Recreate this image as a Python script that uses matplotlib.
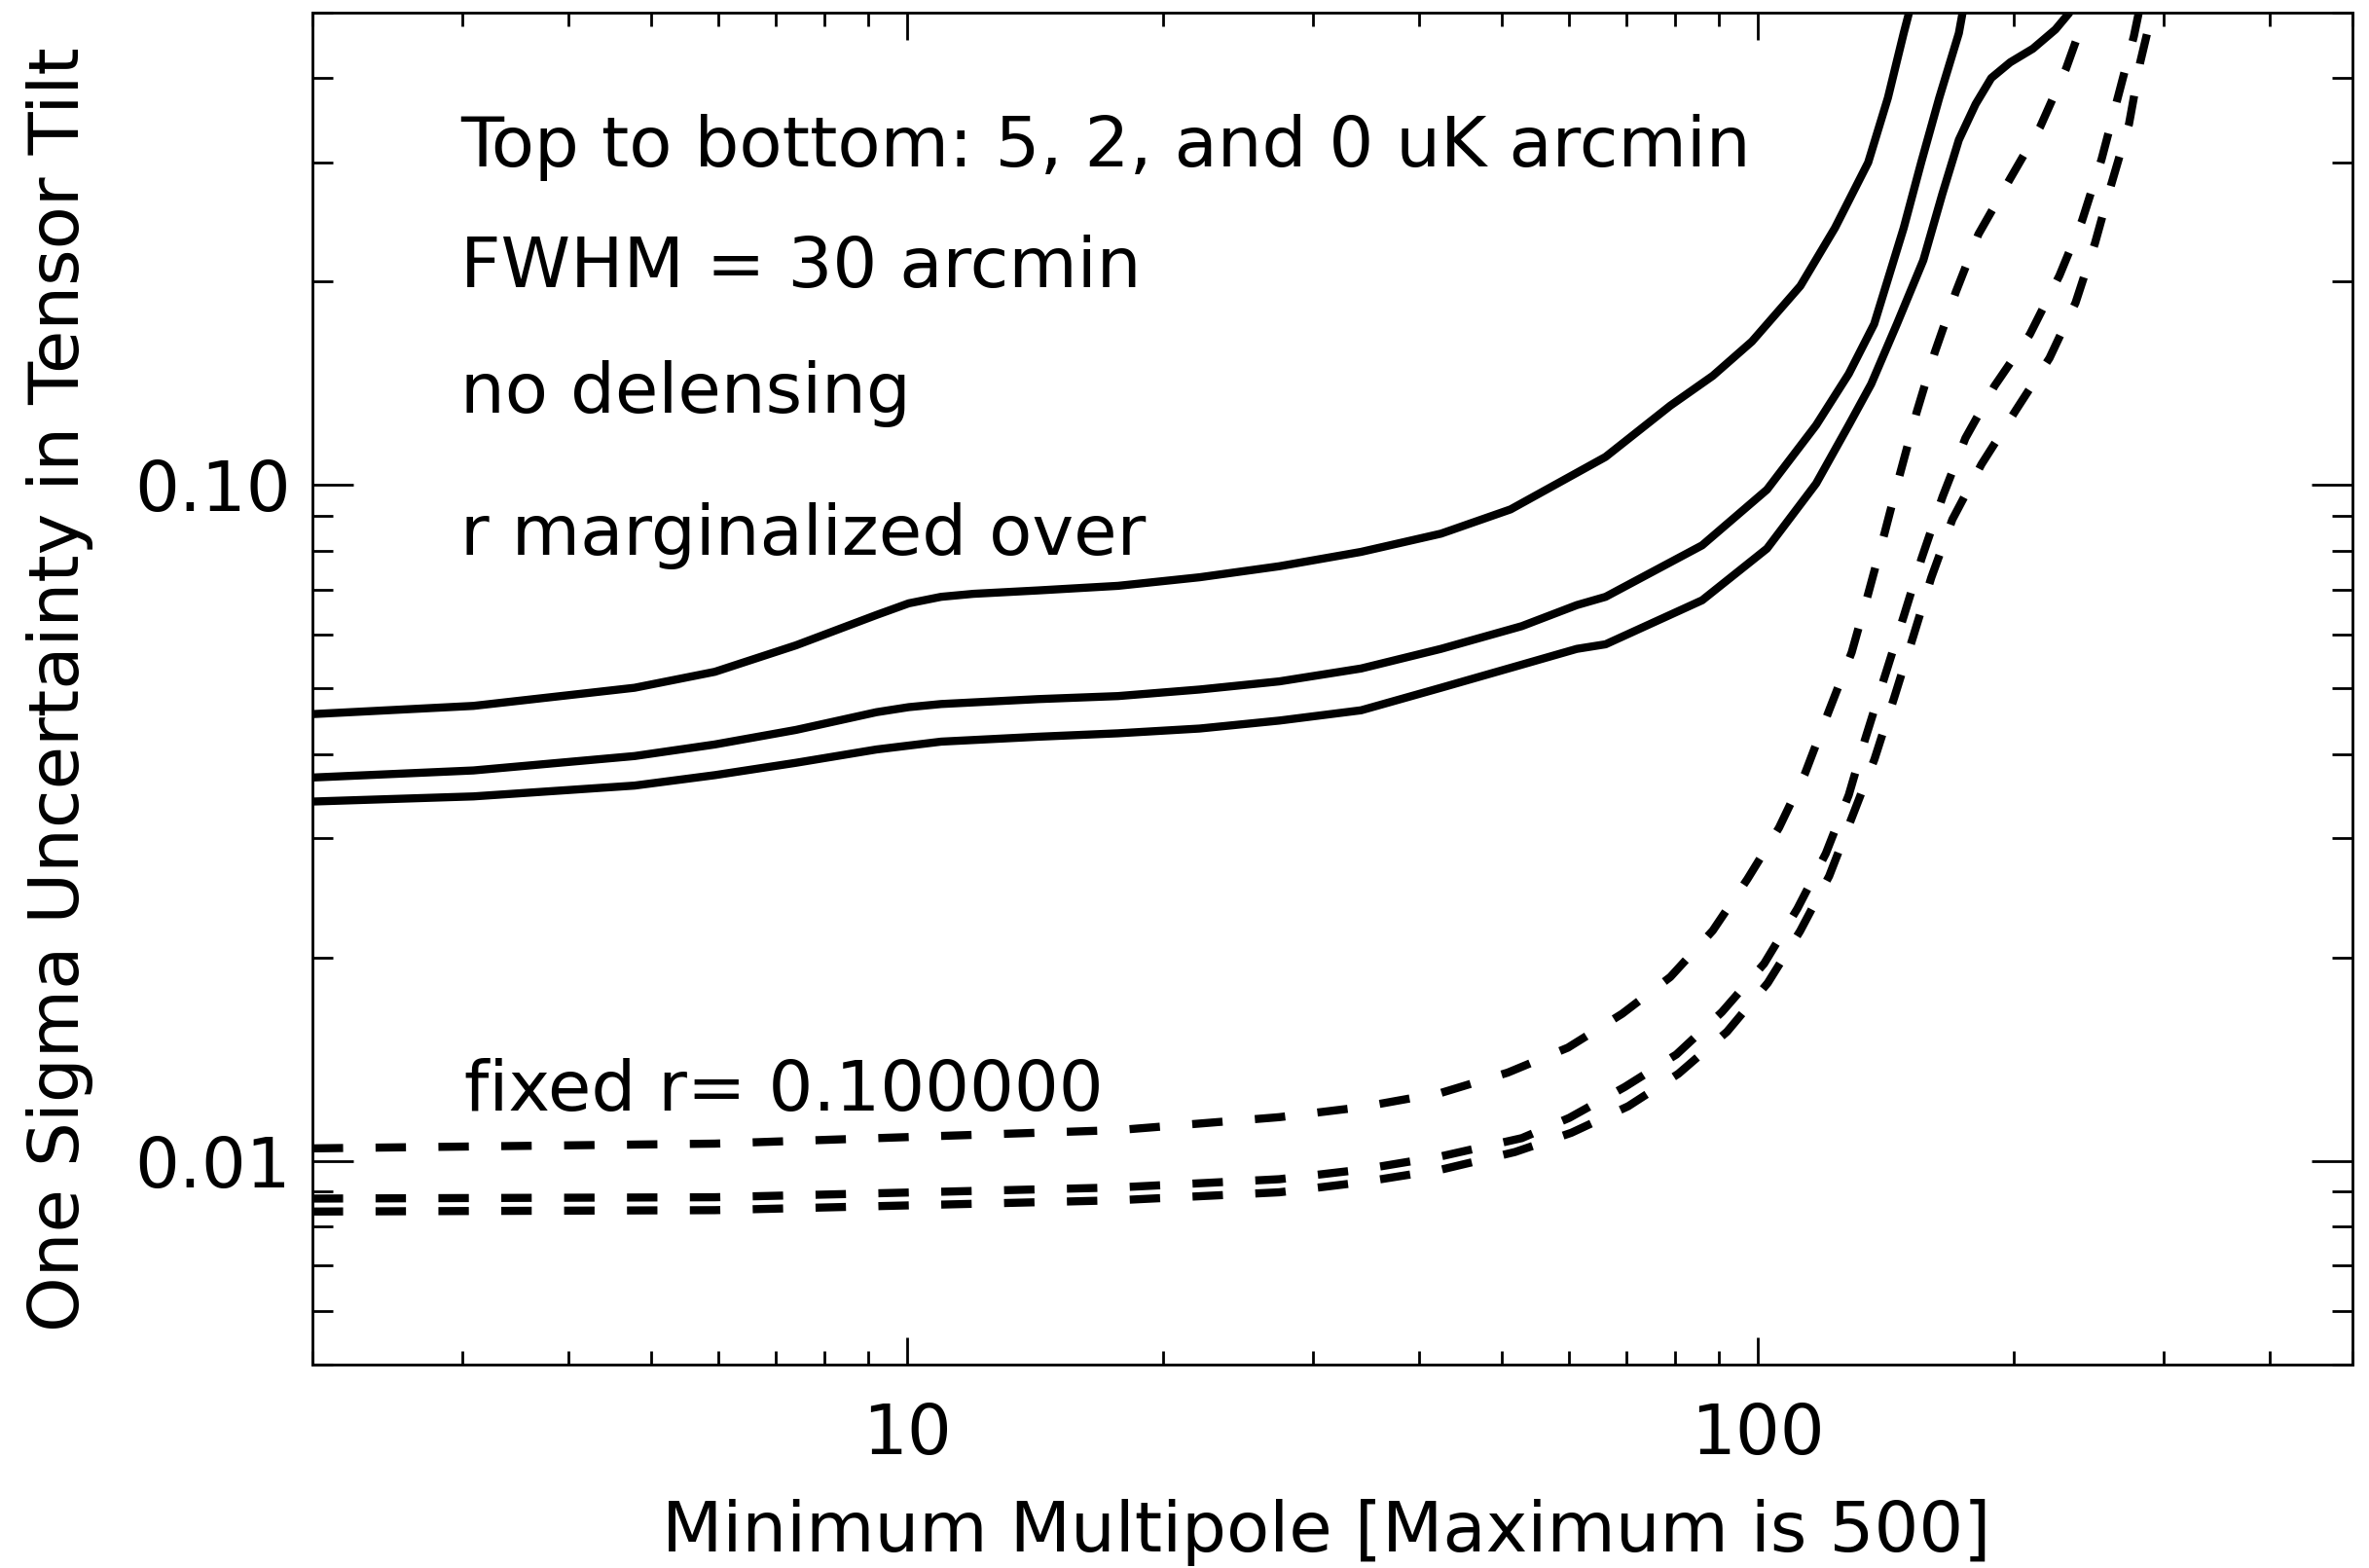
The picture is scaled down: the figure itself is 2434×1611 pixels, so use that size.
import numpy as np
import matplotlib
matplotlib.use("Agg")
from matplotlib import pyplot as plt
from matplotlib.ticker import FixedLocator, LogLocator, NullFormatter

# r marginalized over, noise 5 / 2 / 0 uK arcmin
l_5 = [2.0, 3.09, 4.78, 5.94, 7.40, 9.20, 10.04, 10.96, 11.96, 14.24, 17.69, 22.06, 27.38, 34.16,
       42.41, 51.2, 66.2, 78.9, 88.5, 98.4, 112.2, 123.2, 134.8, 142.2, 148.4, 153.0]
sig_5 = [0.0458, 0.0471, 0.0501, 0.0529, 0.0579, 0.0642, 0.0668, 0.0683, 0.0690, 0.0698, 0.0709, 0.0730,
         0.0758, 0.0796, 0.0847, 0.0920, 0.110, 0.131, 0.145, 0.163, 0.197, 0.240, 0.300, 0.374, 0.466, 0.54]

l_2 = [2.0, 3.09, 4.78, 5.94, 7.40, 9.20, 10.04, 10.96, 14.24, 17.69, 22.06, 27.38, 34.16, 42.41,
       52.77, 61.26, 66.22, 86.0, 102.5, 117.1, 127.9, 137.0, 148.4, 155.6, 163.4, 172.3, 176.0]
sig_2 = [0.0369, 0.0378, 0.0397, 0.0413, 0.0434, 0.0461, 0.0469, 0.0474, 0.0482, 0.0487, 0.0498, 0.0512,
         0.0535, 0.0572, 0.0618, 0.0664, 0.0683, 0.0814, 0.0984, 0.1226, 0.146, 0.173, 0.240, 0.300,
         0.374, 0.466, 0.54]

l_0 = [2.0, 3.09, 4.78, 5.94, 7.40, 9.20, 10.96, 14.24, 17.69, 22.06, 27.38, 34.16, 42.41, 52.77,
       61.26, 66.22, 86.0, 102.5, 117.1, 127.9, 135.9, 145.7, 156.5, 164.7, 172.3, 180.3, 188.1,
       198.0, 210.5, 223.8, 232.2, 238.0]
sig_0 = [0.0340, 0.0346, 0.0359, 0.0372, 0.0388, 0.0406, 0.0417, 0.0424, 0.0429, 0.0436, 0.0448, 0.0464,
         0.0501, 0.0542, 0.0572, 0.0581, 0.0675, 0.0805, 0.1005, 0.1226, 0.141, 0.173, 0.215, 0.269,
         0.324, 0.366, 0.400, 0.422, 0.442, 0.472, 0.499, 0.54]

# fixed r = 0.1, same three noise levels
lf_5 = [2.0, 5.94, 11.42, 17.69, 27.38, 34.16, 42.41, 50.8, 59.8, 69.26, 78.9, 88.5, 97.2, 105.9,
        113.6, 121.2, 128.9, 134.8, 141.0, 146.9, 153.7, 161.4, 170.9, 181.7, 198.0, 214.8, 230.3,
        242.9, 247.0]
sigf_5 = [0.01043, 0.0106, 0.0109, 0.0111, 0.0116, 0.0120, 0.0126, 0.0135, 0.0147, 0.0165, 0.0187,
          0.0219, 0.0261, 0.0311, 0.0374, 0.0463, 0.0565, 0.0690, 0.0851, 0.1038, 0.1281, 0.157,
          0.193, 0.235, 0.284, 0.339, 0.413, 0.498, 0.54]

lf_2 = [2.0, 5.94, 17.69, 27.38, 34.16, 42.41, 52.77, 60.0, 69.77, 80.2, 90.7, 101.7, 111.3, 120.2,
        127.9, 133.6, 140.8, 148.4, 155.8, 164.9, 175.4, 189.7, 208.8, 226.2, 240.5, 253.5, 264.9,
        276.7, 284.0]
sigf_2 = [0.00879, 0.00883, 0.00913, 0.00939, 0.0097, 0.01015, 0.0108, 0.01157, 0.01286, 0.01436,
          0.01659, 0.01957, 0.02361, 0.02849, 0.03477, 0.04194, 0.0518, 0.0639, 0.0779, 0.0961,
          0.1173, 0.140, 0.167, 0.204, 0.246, 0.303, 0.374, 0.461, 0.54]

lf_0 = [2.0, 5.94, 17.69, 27.38, 34.16, 42.41, 51.8, 60.37, 70.4, 80.65, 91.99, 102.7, 112.1, 121.3,
        129.4, 137.1, 144.6, 152.3, 159.9, 169.3, 183.2, 200.9, 220.2, 236.3, 249.1, 260.2, 273.1,
        281.5, 290.7, 296.0]
sigf_0 = [0.00841, 0.00845, 0.00874, 0.00898, 0.00929, 0.0097, 0.0103, 0.0110, 0.01204, 0.01345,
          0.01552, 0.01832, 0.02186, 0.02638, 0.03254, 0.03926, 0.0484, 0.0597, 0.0729, 0.0889,
          0.1073, 0.1288, 0.154, 0.186, 0.228, 0.278, 0.342, 0.422, 0.5, 0.54]

notes = ["Top to bottom: 5, 2, and 0 uK arcmin", "FWHM = 30 arcmin", "no delensing",
         "r marginalized over"]
fixed_note = "fixed r= 0.100000"

plt.rcParams['font.family'] = ['DejaVu Sans']
plt.rcParams['font.size'] = 52

fig = plt.figure(figsize=(24.34, 16.11), dpi=100)
ax = fig.add_axes([0.132, 0.130, 0.861, 0.862])

lw = 6
for x, y in [(l_5, sig_5), (l_2, sig_2), (l_0, sig_0)]:
	ax.plot(x, y, color='black', lw=lw, solid_capstyle='butt', solid_joinstyle='round')
for x, y in [(lf_5, sigf_5), (lf_2, sigf_2), (lf_0, sigf_0)]:
	ax.plot(x, y, color='black', lw=lw, dashes=(3.75, 4.0))

ax.set_xscale('log')
ax.set_yscale('log')
ax.set_xlim(2, 500)
ax.set_ylim(0.005, 0.5)

ax.xaxis.set_major_locator(FixedLocator([10, 100]))
ax.set_xticklabels(['10', '100'])
ax.xaxis.set_minor_locator(LogLocator(base=10, subs=np.arange(2, 10)))
ax.xaxis.set_minor_formatter(NullFormatter())
ax.yaxis.set_major_locator(FixedLocator([0.01, 0.1]))
ax.set_yticklabels(['0.01', '0.10'])
ax.yaxis.set_minor_locator(LogLocator(base=10, subs=np.arange(2, 10)))
ax.yaxis.set_minor_formatter(NullFormatter())

ax.tick_params(axis='both', which='both', direction='in', top=True, right=True, width=2, color='black')
ax.tick_params(axis='x', which='major', length=20, pad=28)
ax.tick_params(axis='x', which='minor', length=10)
ax.tick_params(axis='y', which='major', length=30, pad=16)
ax.tick_params(axis='y', which='minor', length=15)
for s in ax.spines.values():
	s.set_linewidth(2)

for txt, yy in zip(notes, [0.886, 0.7966, 0.704, 0.599]):
	ax.text(0.0726, yy, txt, transform=ax.transAxes, va='baseline', ha='left')
ax.text(0.0741, 0.1877, fixed_note, transform=ax.transAxes, va='baseline', ha='left')

fig.text(0.56, 0.0106, "Minimum Multipole [Maximum is 500]", ha='center', va='baseline')
fig.text(0.0332, 0.5607, "One Sigma Uncertainty in Tensor Tilt", rotation=90,
	rotation_mode='anchor', ha='center', va='baseline')

fig.savefig("out.png", dpi=100, facecolor='white')
